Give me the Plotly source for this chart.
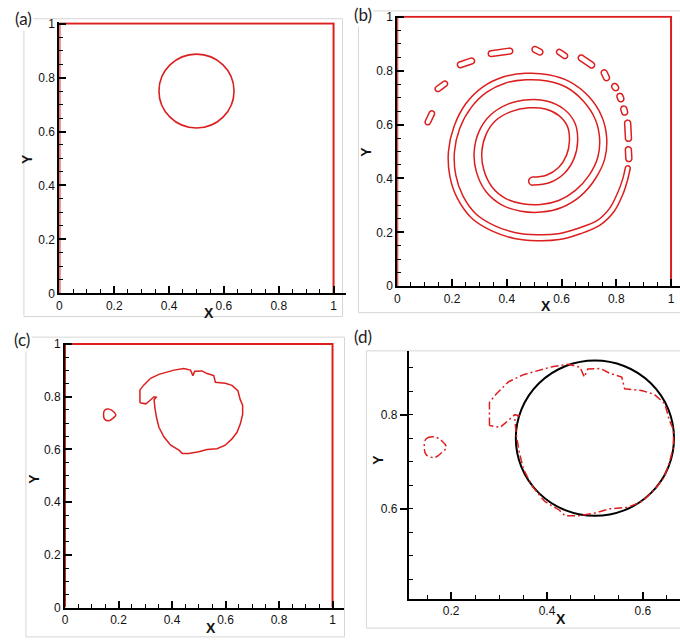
import numpy as np
import plotly.graph_objects as go

W, H = 680, 640
RED = "#dc1e1e"
TICK_FONT = dict(family="Liberation Sans", size=12, color="#111111")
TITLE_FONT = dict(family="Liberation Sans", size=14, color="#111111")
LABEL_FONT = dict(family="Lato", size=17, color="#222222")

# ---------------- data ----------------
# computational domain boundary (unit square)
box_x = [0, 0, 1, 1]
box_y = [0, 1, 1, 0]

# (a) initial circular interface
circle_a_center = (0.50, 0.75)
circle_a_radius = 0.137

# (b) stretched filament: centre line and half-thickness
spiral_x = [0.495, 0.550, 0.600, 0.632, 0.644, 0.635, 0.600, 0.545, 0.480, 0.410,
            0.350, 0.312, 0.295, 0.302, 0.335, 0.390, 0.455, 0.525, 0.595, 0.660,
            0.712, 0.745, 0.752, 0.735, 0.690, 0.625, 0.550, 0.470, 0.390, 0.320,
            0.260, 0.218, 0.198, 0.203, 0.230, 0.280, 0.350, 0.430, 0.510, 0.590,
            0.665, 0.735, 0.785, 0.815, 0.832, 0.842]
spiral_y = [0.390, 0.398, 0.430, 0.480, 0.540, 0.600, 0.645, 0.672, 0.677, 0.662,
            0.625, 0.570, 0.500, 0.430, 0.360, 0.313, 0.292, 0.289, 0.305, 0.345,
            0.405, 0.475, 0.550, 0.625, 0.695, 0.748, 0.773, 0.778, 0.765, 0.730,
            0.670, 0.590, 0.500, 0.410, 0.330, 0.260, 0.215, 0.188, 0.180, 0.184,
            0.205, 0.235, 0.285, 0.345, 0.395, 0.438]
spiral_hw = [0.015, 0.015, 0.015, 0.015, 0.015, 0.015, 0.015, 0.015, 0.015, 0.015,
             0.014, 0.014, 0.014, 0.014, 0.014, 0.014, 0.014, 0.014, 0.014, 0.014,
             0.013, 0.013, 0.013, 0.013, 0.013, 0.012, 0.012, 0.012, 0.012, 0.012,
             0.012, 0.011, 0.011, 0.011, 0.011, 0.011, 0.011, 0.011, 0.011, 0.011,
             0.011, 0.010, 0.010, 0.010, 0.009, 0.009]

# (b) broken-off droplets: centre, length, orientation (deg), half-thickness
drop_cx = [0.119, 0.161, 0.251, 0.377, 0.512, 0.602, 0.691, 0.760, 0.796, 0.815, 0.829, 0.843, 0.845]
drop_cy = [0.625, 0.742, 0.829, 0.868, 0.874, 0.862, 0.834, 0.783, 0.739, 0.700, 0.652, 0.577, 0.490]
drop_len = [0.055, 0.052, 0.065, 0.090, 0.042, 0.045, 0.068, 0.042, 0.028, 0.032, 0.034, 0.079, 0.055]
drop_ang = [65, 37, 19, 8, -28, -35, -35, -65, -55, -70, -75, -87, -87]
drop_hw = [0.010, 0.010, 0.011, 0.011, 0.011, 0.010, 0.011, 0.011, 0.011, 0.011, 0.011, 0.011, 0.011]

# (c) recovered interface after the reverse flow
blob_x = [0.280, 0.280, 0.295, 0.320, 0.351, 0.376, 0.407, 0.444, 0.469, 0.478,
          0.485, 0.512, 0.531, 0.556, 0.562, 0.599, 0.624, 0.646, 0.655, 0.664,
          0.664, 0.655, 0.643, 0.624, 0.599, 0.568, 0.531, 0.500, 0.463, 0.438,
          0.426, 0.395, 0.370, 0.351, 0.342, 0.336, 0.333, 0.341, 0.333, 0.314,
          0.302, 0.280]
blob_y = [0.777, 0.826, 0.845, 0.870, 0.885, 0.892, 0.901, 0.907, 0.901, 0.880,
          0.897, 0.898, 0.888, 0.880, 0.855, 0.851, 0.843, 0.823, 0.789, 0.768,
          0.733, 0.696, 0.665, 0.640, 0.616, 0.603, 0.600, 0.591, 0.585, 0.585,
          0.597, 0.616, 0.647, 0.684, 0.721, 0.758, 0.789, 0.798, 0.800, 0.783,
          0.773, 0.777]
sat_x = [0.144, 0.148, 0.165, 0.181, 0.190, 0.180, 0.165, 0.148, 0.144]
sat_y = [0.733, 0.749, 0.753, 0.744, 0.731, 0.719, 0.709, 0.715, 0.733]

# (d) exact interface for comparison
circle_d_center = (0.50, 0.750)
circle_d_radius = 0.165

unit_ticks = [0, 0.2, 0.4, 0.6, 0.8, 1]
unit_labels = ["0", "0.2", "0.4", "0.6", "0.8", "1"]
zoom_x_ticks = [0.2, 0.4, 0.6]
zoom_x_labels = ["0.2", "0.4", "0.6"]
zoom_y_ticks = [0.6, 0.8]
zoom_y_labels = ["0.6", "0.8"]


# ---------------- helpers ----------------
def ribbon(xs, ys, hw, cap_pts=10):
    """Closed outline of a band of half-width hw around a centre line, with round ends."""
    p = np.column_stack([xs, ys]).astype(float)
    hw = np.asarray(hw, float)
    t = np.gradient(p, axis=0)
    t /= np.linalg.norm(t, axis=1)[:, None]
    n = np.column_stack([-t[:, 1], t[:, 0]])
    left = p + hw[:, None] * n
    right = p - hw[:, None] * n
    th1 = np.arctan2(n[-1, 1], n[-1, 0])
    phi1 = np.linspace(th1, th1 - np.pi, cap_pts)
    end_cap = p[-1] + hw[-1] * np.column_stack([np.cos(phi1), np.sin(phi1)])
    th0 = np.arctan2(n[0, 1], n[0, 0])
    phi0 = np.linspace(th0 + np.pi, th0, cap_pts)
    start_cap = p[0] + hw[0] * np.column_stack([np.cos(phi0), np.sin(phi0)])
    out = np.vstack([left, end_cap, right[::-1], start_cap, left[:1]])
    return out[:, 0], out[:, 1]


def capsule(cx, cy, length, ang, hw):
    a = np.deg2rad(ang)
    half = max(length / 2 - hw, 1e-4)
    xs = [cx - half * np.cos(a), cx + half * np.cos(a)]
    ys = [cy - half * np.sin(a), cy + half * np.sin(a)]
    return ribbon(xs, ys, [hw, hw])


def line(xs, ys, ax, color=RED, width=1.6, dash="solid", shape="linear"):
    return go.Scatter(x=xs, y=ys, mode="lines", xaxis="x" + ax, yaxis="y" + ax,
                      line=dict(color=color, width=width, dash=dash, shape=shape),
                      hoverinfo="skip", showlegend=False)


fig = go.Figure()

# (a)
fig.add_trace(line(box_x, box_y, "", width=2))
# (b)
fig.add_trace(line(box_x, box_y, "2", width=2))
sx, sy = ribbon(spiral_x, spiral_y, spiral_hw)
fig.add_trace(line(sx, sy, "2", width=1.5, shape="spline"))
for i in range(len(drop_cx)):
    bx, by = capsule(drop_cx[i], drop_cy[i], drop_len[i], drop_ang[i], drop_hw[i])
    fig.add_trace(line(bx, by, "2", width=1.5, shape="spline"))
# (c)
fig.add_trace(line(box_x, box_y, "3", width=2))
fig.add_trace(line(blob_x, blob_y, "3", width=1.5))
fig.add_trace(line(sat_x, sat_y, "3", width=1.5, shape="spline"))
# (d)
fig.add_trace(line(blob_x, blob_y, "4", width=1.5, dash="8px,3px,2px,3px"))
fig.add_trace(line(sat_x, sat_y, "4", width=1.5, dash="8px,3px,2px,3px", shape="spline"))


# ---------------- axes ----------------
def dom_x(p0, p1):
    return [p0 / W, p1 / W]


def dom_y(top, bottom):
    return [1 - bottom / H, 1 - top / H]


def axis(domain, rng, anchor, tickvals, ticktext, ticks="inside", ticklen=7):
    return dict(domain=domain, range=rng, anchor=anchor, showline=True,
                linecolor="black", linewidth=2, ticks=ticks, ticklen=ticklen,
                tickwidth=1.5, tickcolor="black", tickvals=tickvals, ticktext=ticktext,
                tickfont=TICK_FONT, showgrid=False, zeroline=False,
                minor=dict(ticks="inside", tick0=0, dtick=0.05, ticklen=4,
                           tickwidth=1, tickcolor="black", showgrid=False))


layout_axes = dict(
    xaxis=axis(dom_x(56.7, 344.4), [0, 1.045], "y", unit_ticks, unit_labels),
    yaxis=axis(dom_y(16.6, 293.3), [0, 1.005], "x", unit_ticks, unit_labels),
    xaxis2=axis(dom_x(396, 680), [0, 1.0327], "y2", unit_ticks, unit_labels),
    yaxis2=axis(dom_y(9.9, 286), [0, 1.004], "x2", unit_ticks, unit_labels),
    xaxis3=axis(dom_x(62.3, 343), [0, 1.0447], "y3", unit_ticks, unit_labels),
    yaxis3=axis(dom_y(343.7, 614), [0, 1.005], "x3", unit_ticks, unit_labels),
    xaxis4=axis(dom_x(407.7, 680), [0.112, 0.6775], "y4", zoom_x_ticks, zoom_x_labels),
    yaxis4=axis(dom_y(352.3, 605), [0.409, 0.935], "x4", zoom_y_ticks, zoom_y_labels,
                ticks="outside", ticklen=7),
)

# ---------------- shapes ----------------
shapes = []
# light panel frames
for (l, t, r, b) in [(21, 13, 341, 317), (357, 5, 684, 313), (23, 338, 343, 644), (365, 352, 684, 635)]:
    shapes.append(dict(type="rect", xref="paper", yref="paper", x0=l / W, x1=r / W,
                       y0=1 - b / H, y1=1 - t / H, line=dict(color="#d6d6d6", width=1),
                       layer="below"))
cx, cy = circle_a_center
r = circle_a_radius
shapes.append(dict(type="circle", xref="x", yref="y", x0=cx - r, x1=cx + r, y0=cy - r, y1=cy + r,
                   line=dict(color=RED, width=1.6)))
cx, cy = circle_d_center
r = circle_d_radius
shapes.append(dict(type="circle", xref="x4", yref="y4", x0=cx - r, x1=cx + r, y0=cy - r, y1=cy + r,
                   line=dict(color="black", width=2), layer="below"))

# ---------------- annotations ----------------
ann = []
for lab, x, y in [("(a)", 21, 13), ("(b)", 362, 9), ("(c)", 19, 340), ("(d)", 362, 337)]:
    ann.append(dict(text=lab, x=x / W, y=1 - y / H, xref="paper", yref="paper",
                    showarrow=False, font=LABEL_FONT, bgcolor="white",
                    xanchor="center", yanchor="middle"))

for suf, xpos, xshift_y, ypos in [("", 0.545, -32, 0.50), ("2", 0.544, -31, 0.50),
                                   ("3", 0.546, -30.6, 0.49), ("4", 0.43, -30.4, 0.703)]:
    xa = "x" + suf
    ya = "y" + suf
    ybase = 0.409 if suf == "4" else 0
    xbase = 0.112 if suf == "4" else 0
    ann.append(dict(text="<b>X</b>", x=xpos, y=ybase, xref=xa, yref=ya, yshift=-20,
                    showarrow=False, font=TITLE_FONT, xanchor="center", yanchor="middle"))
    ann.append(dict(text="<b>Y</b>", x=xbase, y=ypos, xref=xa, yref=ya, xshift=xshift_y,
                    showarrow=False, font=TITLE_FONT, textangle=-90,
                    xanchor="center", yanchor="middle"))

fig.update_layout(width=W, height=H, margin=dict(l=0, r=0, t=0, b=0),
                  paper_bgcolor="white", plot_bgcolor="white",
                  shapes=shapes, annotations=ann, showlegend=False, **layout_axes)

fig.write_html("out.html")
